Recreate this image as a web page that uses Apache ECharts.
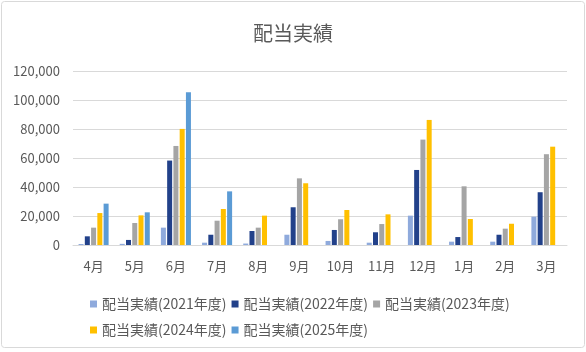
<!DOCTYPE html>
<html>
<head>
<meta charset="utf-8">
<script src="https://cdn.jsdelivr.net/npm/echarts@6/dist/echarts.min.js"></script>
<style>
  html, body { margin: 0; padding: 0; background: #fff; }
  #chart { width: 586px; height: 352px; }
</style>
</head>
<body>
<div id="chart"></div>
<script>
const months = ['4月', '5月', '6月', '7月', '8月', '9月', '10月', '11月', '12月', '1月', '2月', '3月']
const seriesNames = ['配当実績(2021年度)', '配当実績(2022年度)', '配当実績(2023年度)', '配当実績(2024年度)', '配当実績(2025年度)']
const seriesColors = ['#8faadc', '#22418a', '#a5a5a5', '#ffc000', '#5b9bd5']
const fy2021 = [700, 800, 12000, 1600, 1000, 7100, 2800, 1600, 20300, 2300, 2300, 19600]
const fy2022 = [6000, 3500, 58400, 7100, 9700, 26100, 10400, 8800, 51900, 5500, 7100, 36500]
const fy2023 = [12000, 15200, 68500, 16800, 12000, 46100, 17800, 14500, 72900, 40600, 11300, 62800]
const fy2024 = [22100, 20500, 80300, 24900, 20300, 42700, 24200, 21200, 86500, 18000, 14700, 68000]
const fy2025 = [28600, 22600, 105700, 37100, null, null, null, null, null, null, null, null]
const seriesData = [fy2021, fy2022, fy2023, fy2024, fy2025]

const font = 'Noto Sans CJK JP'
const textColor = '#595959'

const option = {
  animation: false,
  title: {
    text: '配当実績',
    left: 'center',
    top: 18,
    textStyle: { fontFamily: font, fontSize: 20, fontWeight: 'normal', color: textColor }
  },
  legend: {
    left: 85,
    top: 288.5,
    width: 460,
    itemWidth: 7,
    itemHeight: 7,
    itemGap: 5,
    icon: 'rect',
    textStyle: { fontFamily: font, fontSize: 14, color: textColor, lineHeight: 21 },
    data: seriesNames
  },
  grid: {
    left: 73,
    right: 19,
    top: 71.5,
    bottom: 107
  },
  xAxis: {
    type: 'category',
    data: months,
    axisTick: { show: false },
    axisLine: { lineStyle: { color: '#d9d9d9', width: 1 } },
    axisLabel: { fontFamily: font, fontSize: 13, color: textColor, margin: 15 }
  },
  yAxis: {
    type: 'value',
    min: 0,
    max: 120000,
    interval: 20000,
    axisLabel: {
      fontFamily: font, fontSize: 13, color: textColor, margin: 13,
      formatter: v => v.toLocaleString('en-US')
    },
    splitLine: { lineStyle: { color: '#d9d9d9', width: 1 } }
  },
  graphic: [{
    type: 'rect',
    shape: { x: 1.5, y: 1.5, width: 583, height: 346, r: 3 },
    style: { fill: 'none', stroke: '#d9d9d9', lineWidth: 1 },
    silent: true
  }],
  series: seriesNames.map((name, i) => ({
    name,
    type: 'bar',
    data: seriesData[i],
    barCategoryGap: '27%',
    barGap: '25%',
    itemStyle: { color: seriesColors[i] }
  }))
}

const myChart = echarts.init(document.getElementById('chart'))
myChart.setOption(option)
</script>
</body>
</html>
